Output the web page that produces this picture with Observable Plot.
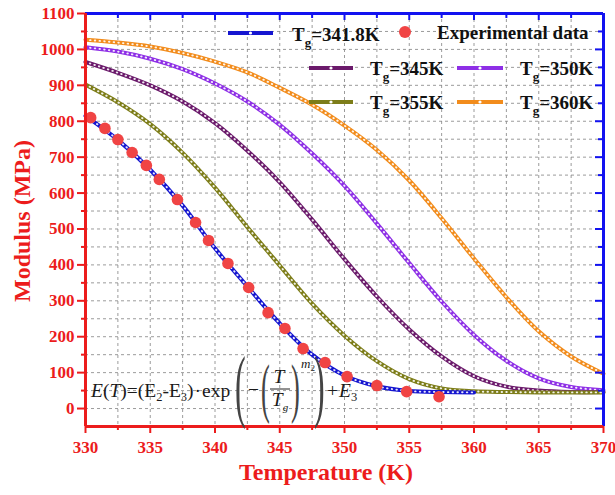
<!DOCTYPE html>
<html><head><meta charset="utf-8">
<script src="https://cdn.jsdelivr.net/npm/d3@7"></script>
<script src="https://cdn.jsdelivr.net/npm/@observablehq/plot@0.6"></script>
<style>body{margin:0;background:#fff} svg{display:block}</style>
</head><body><div id="chart"></div>
<script>
// ---- data ----
const temps = [330,332.5,335,337.5,340,342.5,345,347.5,350,352.5,355,357.5,360,362.5,365,367.5,370];
const e341 = [815,748,665,565,446,340,237,150,92,62,49,46,45];
const e345 = [965,935,900,855,795,718,630,526,416,312,220,145,90,61,50,46,46];
const e350 = [1006,994,974,945,905,855,790,710,620,515,405,298,205,133,84,60,51];
const e355 = [902,853,792,712,615,505,398,292,203,132,82,56,48,46,45,45,45];
const e360 = [1027,1019,1008,990,966,936,893,846,788,720,635,530,418,310,215,145,97];
const seriesValues = [e341, e345, e350, e355, e360];
const seriesTg = ["341.8", "345", "350", "355", "360"];
const seriesColors = ["#1515d0", "#6b1a6b", "#8e2fe6", "#7d7d19", "#f28c1c"];

const expT = [330.4,331.5,332.5,333.6,334.7,335.7,337.1,338.5,339.5,341.0,342.6,344.1,345.4,346.8,348.5,350.2,352.5,354.8,357.3];
const expE = [810,780,749,713,677,638,582,518,468,404,337,267,223,167,128,89,64,47,33];

const xTicks = [330,335,340,345,350,355,360,365,370];
const xMinor = [332.5,337.5,342.5,347.5,352.5,357.5,362.5,367.5];
const yTicks = [0,100,200,300,400,500,600,700,800,900,1000,1100];
const yMinor = [50,150,250,350,450,550,650,750,850,950,1050];
const xLabel = "Temperature (K)";
const yLabel = "Modulus (MPa)";
const legendExp = "Experimental data";

// ---- layout ----
const W = 615, H = 495, mL = 85, mR = 12, mT = 13, mB = 69;
const innerW = W - mL - mR, innerH = H - mT - mB;
const RED = "#ec1c1c", BLUE = "#1212f0", FONT = "Liberation Serif, 'Times New Roman', serif";

const series = seriesValues.map((vals, i) =>
  vals.map((e, j) => ({t: temps[j], e, s: i})));

const lineMarks = [];
[4, 2, 1, 3, 0].forEach(i => {
  lineMarks.push(Plot.line(series[i], {x: "t", y: "e", stroke: seriesColors[i], strokeWidth: 4, curve: "catmull-rom"}));
  lineMarks.push(Plot.line(series[i], {x: "t", y: "e", stroke: "white", strokeOpacity: 0.9, strokeWidth: 1.9, strokeLinecap: "round", strokeDasharray: "0.5,4.2", curve: "catmull-rom"}));
});

const gridXv = [...xMinor, ...xTicks.slice(1, -1)];
const gridYv = [...yTicks.slice(0, -1), ...yMinor];
const expData = expT.map((t, i) => ({t, e: expE[i]}));
const fmt = d => String(d);

const svgEl = Plot.plot({
  width: W, height: H,
  marginLeft: mL, marginRight: mR, marginTop: mT, marginBottom: mB,
  style: {fontFamily: FONT, background: "white"},
  x: {domain: [330, 370]},
  y: {domain: [-50, 1100]},
  marks: [
    Plot.gridX(gridXv, {stroke: "#8a8a8a", strokeOpacity: 0.85, strokeDasharray: "3,3", strokeWidth: 1}),
    Plot.gridY(gridYv, {stroke: "#8a8a8a", strokeOpacity: 0.85, strokeDasharray: "3,3", strokeWidth: 1}),
    ...lineMarks,
    Plot.dot(expData, {x: "t", y: "e", r: 5.8, fill: "#f04444"}),
    Plot.ruleY([1100], {stroke: BLUE, strokeWidth: 3}),
    Plot.ruleX([370], {stroke: BLUE, strokeWidth: 3}),
    Plot.tickX(xTicks, {x: d => d, stroke: BLUE, strokeWidth: 2, insetBottom: innerH - 7}),
    Plot.tickX(xMinor, {x: d => d, stroke: BLUE, strokeWidth: 2, insetBottom: innerH - 5}),
    Plot.tickY(yTicks, {y: d => d, stroke: BLUE, strokeWidth: 2, insetLeft: innerW - 8}),
    Plot.tickY(yMinor, {y: d => d, stroke: BLUE, strokeWidth: 2, insetLeft: innerW - 5}),
    Plot.ruleX([330], {stroke: RED, strokeWidth: 3}),
    Plot.ruleY([-50], {stroke: RED, strokeWidth: 3}),
    Plot.axisX(xTicks, {anchor: "bottom", tickSize: 7, tickPadding: 7, fontSize: 17, fontWeight: "bold", color: RED, strokeWidth: 2, tickFormat: fmt, label: null}),
    Plot.axisX(xMinor, {anchor: "bottom", tickSize: 4, tickFormat: () => "", color: RED, strokeWidth: 2, label: null}),
    Plot.axisY(yTicks, {anchor: "left", tickSize: 8, tickPadding: 3, fontSize: 17, fontWeight: "bold", color: RED, strokeWidth: 2, tickFormat: fmt, label: null}),
    Plot.axisY(yMinor, {anchor: "left", tickSize: 4, tickFormat: () => "", color: RED, strokeWidth: 2, label: null})
  ]
});
document.getElementById("chart").appendChild(svgEl);

const svg = d3.select(svgEl);

// axis titles
svg.append("text").text(xLabel)
  .attr("x", 326).attr("y", 480).attr("text-anchor", "middle")
  .attr("font-family", FONT).attr("font-size", 24).attr("font-weight", "bold").attr("fill", RED);
svg.append("text").text(yLabel)
  .attr("transform", "translate(30,221) rotate(-90)").attr("text-anchor", "middle")
  .attr("font-family", FONT).attr("font-size", 24).attr("font-weight", "bold").attr("fill", RED);

// legend
const lg = svg.append("g").attr("font-family", FONT).attr("font-weight", "bold").attr("font-size", 19)
  .attr("fill", "#111").attr("text-anchor", "start");
function legendLine(x1, x2, y, color) {
  lg.append("line").attr("x1", x1).attr("x2", x2).attr("y1", y).attr("y2", y)
    .attr("stroke", color).attr("stroke-width", 3.8);
  lg.append("circle").attr("cx", (x1 + x2) / 2).attr("cy", y).attr("r", 1.6).attr("fill", "white");
}
function legendText(x, y, tg) {
  const t = lg.append("text").attr("x", x).attr("y", y);
  t.append("tspan").text("T");
  t.append("tspan").attr("dy", 6).attr("font-size", 13).text("g");
  t.append("tspan").attr("dy", -6).text("=" + tg + "K");
}
legendLine(228, 273, 33, seriesColors[0]); legendText(292, 41, seriesTg[0]);
lg.append("circle").attr("cx", 405).attr("cy", 32).attr("r", 6).attr("fill", "#f04444");
lg.append("text").attr("x", 437).attr("y", 39).text(legendExp);
legendLine(309, 353, 68, seriesColors[1]); legendText(370, 75, seriesTg[1]);
legendLine(457, 503, 68, seriesColors[2]); legendText(520, 75, seriesTg[2]);
legendLine(309, 353, 102, seriesColors[3]); legendText(370, 109, seriesTg[3]);
legendLine(457, 503, 102, seriesColors[4]); legendText(520, 109, seriesTg[4]);

// formula
const fg = svg.append("g").attr("font-family", FONT).attr("fill", "#1a1a1a").attr("font-size", 19.5).attr("text-anchor", "start");
const f1 = fg.append("text").attr("x", 91).attr("y", 397);
f1.append("tspan").attr("font-style", "italic").text("E");
f1.append("tspan").text("(");
f1.append("tspan").attr("font-style", "italic").text("T");
f1.append("tspan").text(")=(E");
f1.append("tspan").attr("dy", 4).attr("font-size", 12.5).text("2");
f1.append("tspan").attr("dy", -4).text("-E");
f1.append("tspan").attr("dy", 4).attr("font-size", 12.5).text("3");
f1.append("tspan").attr("dy", -4).text(")");
f1.append("tspan").attr("dx", 1).text("\u00B7");
f1.append("tspan").attr("dx", 1).text("exp");
function bigParen(ch, x, yb, size) {
  fg.append("text").text(ch).attr("font-size", size).attr("fill", "#444")
    .attr("transform", `translate(${x},${yb}) scale(0.4,1)`);
}
bigParen("(", 235, 412, 80);
fg.append("text").attr("x", 248).attr("y", 396).text("\u2212");
bigParen("(", 261, 410, 66);
fg.append("text").attr("x", 279).attr("y", 383).attr("text-anchor", "middle").attr("font-style", "italic").text("T");
fg.append("line").attr("x1", 270).attr("x2", 290).attr("y1", 389).attr("y2", 389).attr("stroke", "#222").attr("stroke-width", 1);
const den = fg.append("text").attr("x", 280).attr("y", 406).attr("text-anchor", "middle").attr("font-style", "italic");
den.append("tspan").text("T");
den.append("tspan").attr("dy", 5).attr("font-size", 11).text("g");
bigParen(")", 291, 410, 66);
const sup = fg.append("text").attr("x", 301).attr("y", 368).attr("font-size", 13).attr("font-style", "italic");
sup.append("tspan").text("m");
sup.append("tspan").attr("dy", 3).attr("font-size", 9).attr("font-style", "normal").text("2");
bigParen(")", 314, 412, 80);
const f2 = fg.append("text").attr("x", 327).attr("y", 397);
f2.append("tspan").text("+");
f2.append("tspan").attr("dx", 1).attr("font-style", "italic").text("E");
f2.append("tspan").attr("dy", 4).attr("font-size", 12.5).text("3");
</script>
</body></html>
